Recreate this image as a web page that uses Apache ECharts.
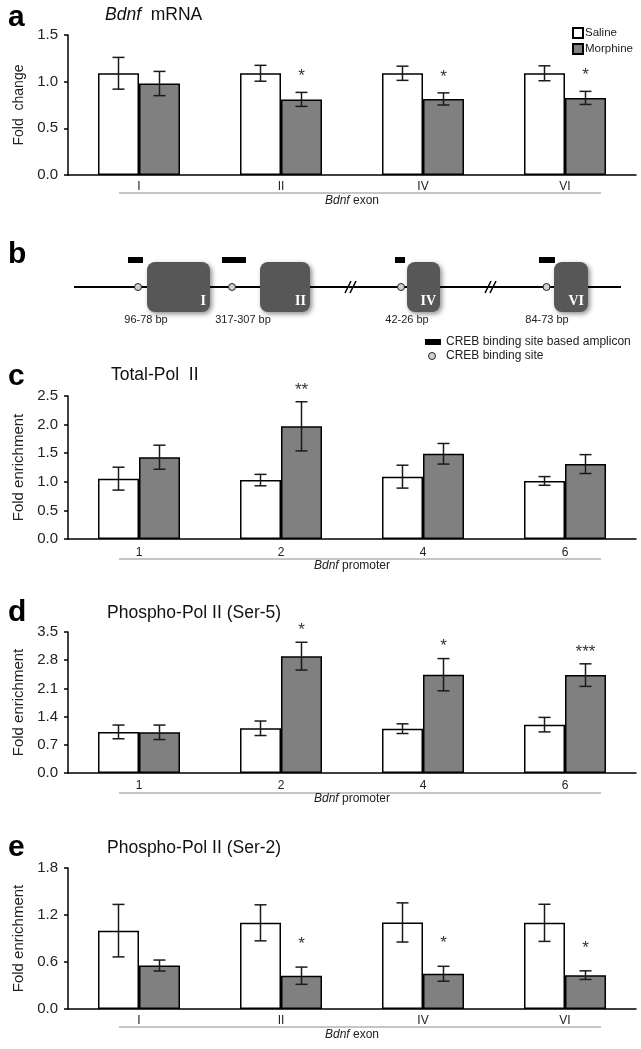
<!DOCTYPE html>
<html>
<head>
<meta charset="utf-8">
<title>Bdnf</title>
<script src="https://cdn.jsdelivr.net/npm/echarts@6/dist/echarts.min.js"></script>
<style>
  html, body {margin: 0; padding: 0; background: #fff;}
  #main {width: 641px; height: 1049px;}
</style>
</head>
<body>
<div id="main"></div>
<script>
// categories
var exonCats = ['I', 'II', 'IV', 'VI'];
var promoterCats = ['1', '2', '4', '6'];

// a: Bdnf mRNA
var mrnaSaline = [1.09, 1.09, 1.09, 1.09];
var mrnaSalineErr = [0.17, 0.085, 0.076, 0.08];
var mrnaMorphine = [0.98, 0.81, 0.815, 0.826];
var mrnaMorphineErr = [0.13, 0.075, 0.065, 0.07];
var mrnaSig = ['', '*', '*', '*'];

// c: Total-Pol II
var totalSaline = [1.055, 1.03, 1.09, 1.015];
var totalSalineErr = [0.2, 0.1, 0.2, 0.076];
var totalMorphine = [1.43, 1.97, 1.49, 1.31];
var totalMorphineErr = [0.21, 0.43, 0.18, 0.165];
var totalSig = ['', '**', '', ''];

// d: Phospho-Pol II (Ser-5)
var ser5Saline = [1.02, 1.11, 1.10, 1.20];
var ser5SalineErr = [0.17, 0.18, 0.12, 0.18];
var ser5Morphine = [1.01, 2.90, 2.44, 2.43];
var ser5MorphineErr = [0.18, 0.345, 0.40, 0.28];
var ser5Sig = ['', '*', '*', '***'];

// e: Phospho-Pol II (Ser-2)
var ser2Saline = [1.0, 1.10, 1.105, 1.10];
var ser2SalineErr = [0.335, 0.23, 0.25, 0.237];
var ser2Morphine = [0.555, 0.425, 0.45, 0.432];
var ser2MorphineErr = [0.07, 0.11, 0.095, 0.055];
var ser2Sig = ['', '*', '*', '*'];

// b: gene schematic labels
var exonNames = ['I', 'II', 'IV', 'VI'];
var bpLabels = ['96-78 bp', '317-307 bp', '42-26 bp', '84-73 bp'];

var FONT = '"Liberation Sans", Arial, sans-serif';
var BAR_W = 41;

var panels = [
  {cats: exonCats, s: mrnaSaline, se: mrnaSalineErr, m: mrnaMorphine, me: mrnaMorphineErr, sig: mrnaSig,
   top: 35, height: 140, max: 1.5, step: 0.5, yName: 'Fold  change', yNameSize: 14, xName: 'exon', sigGap: 16, underline: 18, labelMargin: 6},
  {cats: promoterCats, s: totalSaline, se: totalSalineErr, m: totalMorphine, me: totalMorphineErr, sig: totalSig,
   top: 396, height: 143, max: 2.5, step: 0.5, yName: 'Fold enrichment', yNameSize: 15, xName: 'promoter', sigGap: 11, underline: 20, labelMargin: 8},
  {cats: promoterCats, s: ser5Saline, se: ser5SalineErr, m: ser5Morphine, me: ser5MorphineErr, sig: ser5Sig,
   top: 632, height: 141, max: 3.5, step: 0.7, yName: 'Fold enrichment', yNameSize: 15, xName: 'promoter', sigGap: 12, underline: 20, labelMargin: 7},
  {cats: exonCats, s: ser2Saline, se: ser2SalineErr, m: ser2Morphine, me: ser2MorphineErr, sig: ser2Sig,
   top: 868, height: 141, max: 1.8, step: 0.6, yName: 'Fold enrichment', yNameSize: 15, xName: 'exon', sigGap: 23, underline: 18, labelMargin: 6}
];

function errRender(offset, sigs, sigGap) {
  return function (params, api) {
    var i = api.value(0), m = api.value(1), e = api.value(2);
    var top = api.coord([i, m + e]), bot = api.coord([i, m - e]);
    var x = top[0] + offset;
    var st = {stroke: '#1a1a1a', lineWidth: 1.5};
    var children = [
      {type: 'line', shape: {x1: x, y1: top[1], x2: x, y2: bot[1]}, style: st},
      {type: 'line', shape: {x1: x - 6, y1: top[1], x2: x + 6, y2: top[1]}, style: st},
      {type: 'line', shape: {x1: x - 6, y1: bot[1], x2: x + 6, y2: bot[1]}, style: st}
    ];
    var s = sigs && sigs[params.dataIndex];
    if (s) {
      children.push({type: 'text', style: {text: s, x: x, y: top[1] - sigGap, align: 'center', verticalAlign: 'middle',
        font: '17px ' + FONT, fill: '#333'}});
    }
    return {type: 'group', children: children};
  };
}

var grid = [], xAxis = [], yAxis = [], series = [], graphic = [];

panels.forEach(function (p, k) {
  grid.push({left: 68, width: 568, top: p.top, height: p.height});
  xAxis.push({
    type: 'category', gridIndex: k, data: p.cats,
    axisLine: {lineStyle: {color: '#000', width: 1.5}},
    axisTick: {show: false},
    axisLabel: {fontSize: 12, color: '#222', fontFamily: FONT, margin: p.labelMargin, interval: 0},
    name: '{i|Bdnf} ' + p.xName, nameLocation: 'middle', nameGap: 20,
    nameTextStyle: {fontSize: 12, color: '#222', fontFamily: FONT, rich: {i: {fontStyle: 'italic', fontSize: 12, color: '#222'}}}
  });
  yAxis.push({
    type: 'value', gridIndex: k, min: 0, max: p.max, interval: p.step,
    axisLine: {show: true, lineStyle: {color: '#000', width: 1.5}},
    axisTick: {show: true, length: 4, lineStyle: {color: '#000', width: 1.5}},
    splitLine: {show: false},
    axisLabel: {fontSize: 15, color: '#222', fontFamily: FONT, margin: 10,
      formatter: function (v) { return v.toFixed(1); }},
    name: p.yName, nameLocation: 'middle', nameGap: 41,
    nameTextStyle: {fontSize: p.yNameSize, color: '#222', fontFamily: FONT}
  });
  series.push({
    name: 'Saline', type: 'bar', xAxisIndex: k, yAxisIndex: k, data: p.s,
    barWidth: BAR_W, barGap: '0%',
    itemStyle: {color: '#fff', borderColor: '#000', borderWidth: 1.5}
  });
  series.push({
    name: 'Morphine', type: 'bar', xAxisIndex: k, yAxisIndex: k, data: p.m,
    barWidth: BAR_W, barGap: '0%',
    itemStyle: {color: '#808080', borderColor: '#000', borderWidth: 1.5}
  });
  series.push({
    type: 'custom', xAxisIndex: k, yAxisIndex: k, z: 5,
    renderItem: errRender(-BAR_W / 2, null, 0),
    data: p.s.map(function (v, j) { return [j, v, p.se[j]]; })
  });
  series.push({
    type: 'custom', xAxisIndex: k, yAxisIndex: k, z: 5,
    renderItem: errRender(BAR_W / 2, p.sig, p.sigGap),
    data: p.m.map(function (v, j) { return [j, v, p.me[j]]; })
  });
  // grey bracket line under category labels
  graphic.push({type: 'line', shape: {x1: 119, y1: p.top + p.height + p.underline, x2: 601, y2: p.top + p.height + p.underline},
    style: {stroke: '#8c8c8c', lineWidth: 1}});
});

// panel letters and titles
var letters = [['a', 3], ['b', 240], ['c', 362], ['d', 598], ['e', 833]];
letters.forEach(function (l) {
  graphic.push({type: 'text', left: 8, top: l[1], style: {text: l[0], font: 'bold 30px ' + FONT, fill: '#000'}});
});
var titles = [
  {text: '{i|Bdnf}  mRNA', x: 105, y: 6},
  {text: 'Total-Pol  II', x: 111, y: 366},
  {text: 'Phospho-Pol II (Ser-5)', x: 107, y: 604},
  {text: 'Phospho-Pol II (Ser-2)', x: 107, y: 839}
];
titles.forEach(function (t) {
  graphic.push({type: 'text', left: t.x, top: t.y, style: {text: t.text, font: '17.5px ' + FONT, fill: '#111',
    rich: {i: {fontStyle: 'italic', fontSize: 17.5, fontFamily: FONT, fill: '#111'}}}});
});

// b: gene schematic
var lineY = 287;
var exonBoxes = [[147, 210], [260, 310], [407, 440], [554, 588]];
var sites = [138, 232, 401, 546.5];
var amplicons = [[128, 143], [222, 246], [395, 405], [539, 555]];
var bpX = [146, 243, 407, 547];
graphic.push({type: 'line', shape: {x1: 74, y1: lineY, x2: 621, y2: lineY}, style: {stroke: '#000', lineWidth: 1.8}});
[350, 490].forEach(function (bx) {
  graphic.push({type: 'line', shape: {x1: bx - 5, y1: lineY + 6, x2: bx + 1, y2: lineY - 6}, style: {stroke: '#000', lineWidth: 1.5}, z: 10});
  graphic.push({type: 'line', shape: {x1: bx, y1: lineY + 6, x2: bx + 6, y2: lineY - 6}, style: {stroke: '#000', lineWidth: 1.5}, z: 10});
});
exonBoxes.forEach(function (b, k) {
  graphic.push({type: 'rect', shape: {x: b[0], y: 262, width: b[1] - b[0], height: 50, r: 8},
    style: {fill: '#575757', shadowBlur: 5, shadowOffsetX: 2, shadowOffsetY: 2, shadowColor: 'rgba(0,0,0,0.45)'}, z: 5});
  graphic.push({type: 'text', x: b[1] - 4, y: 308, style: {text: exonNames[k], align: 'right', verticalAlign: 'bottom',
    font: 'bold 14px "Liberation Serif", "DejaVu Serif", serif', fill: '#fff'}, z: 6});
  graphic.push({type: 'circle', shape: {cx: sites[k], cy: lineY, r: 3.5}, style: {fill: '#d0d0d0', stroke: '#222', lineWidth: 1}, z: 6});
  graphic.push({type: 'rect', shape: {x: amplicons[k][0], y: 257, width: amplicons[k][1] - amplicons[k][0], height: 6}, style: {fill: '#000'}});
  graphic.push({type: 'text', x: bpX[k], y: 320, style: {text: bpLabels[k], align: 'center', verticalAlign: 'middle',
    font: '11px ' + FONT, fill: '#222'}});
});
graphic.push({type: 'rect', shape: {x: 425, y: 339, width: 16, height: 6}, style: {fill: '#000'}});
graphic.push({type: 'text', x: 446, y: 342, style: {text: 'CREB binding site based amplicon', verticalAlign: 'middle', font: '12px ' + FONT, fill: '#222'}});
graphic.push({type: 'circle', shape: {cx: 432, cy: 356, r: 3.5}, style: {fill: '#d0d0d0', stroke: '#222', lineWidth: 1}});
graphic.push({type: 'text', x: 446, y: 356, style: {text: 'CREB binding site', verticalAlign: 'middle', font: '12px ' + FONT, fill: '#222'}});

var chart = echarts.init(document.getElementById('main'));
chart.setOption({
  animation: false,
  textStyle: {fontFamily: FONT},
  legend: {
    data: ['Saline', 'Morphine'], orient: 'vertical', left: 572, top: 27, padding: 0,
    icon: 'rect', itemWidth: 10, itemHeight: 10, itemGap: 4,
    textStyle: {fontSize: 11.5, color: '#222', fontFamily: FONT, padding: [0, 0, 0, -3]}
  },
  grid: grid,
  xAxis: xAxis,
  yAxis: yAxis,
  series: series,
  graphic: graphic
});
window.onresize = chart.resize;
</script>
</body>
</html>
